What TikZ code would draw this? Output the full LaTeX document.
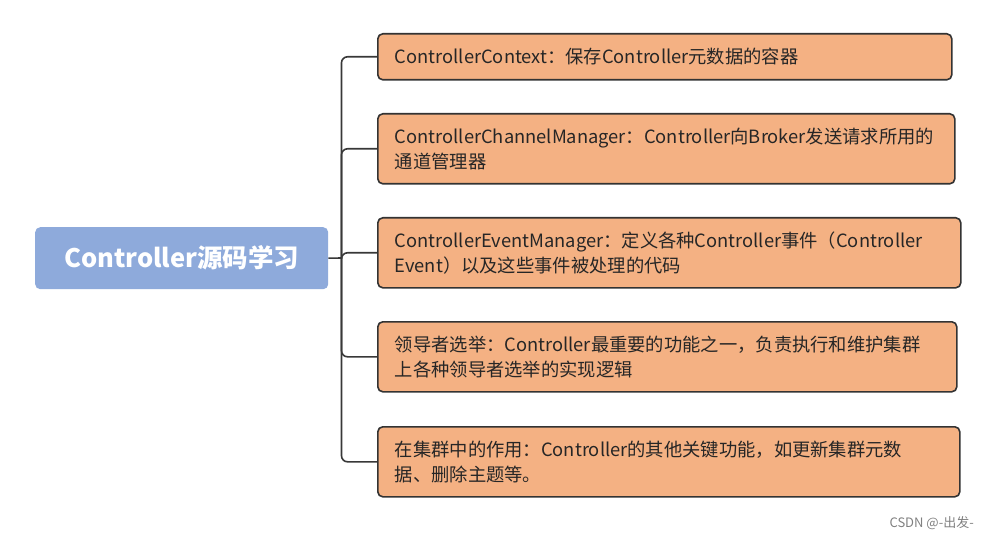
\documentclass[tikz,border=0pt]{standalone}
\usepackage{fontspec}
\setmainfont{Noto Sans CJK SC}
\begin{document}
\begin{tikzpicture}[x=1pt,y=-1pt,
  leaf/.style={draw=black!80,line width=1.6pt,fill=boxfill,rounded corners=5pt,
    anchor=north west,align=left,inner xsep=17pt,inner ysep=0pt,
    font=\fontsize{18.3}{25}\selectfont,text=black!85},
  rootbox/.style={fill=rootfill,rounded corners=5pt,inner sep=0pt,
    text=white,font=\fontsize{25.5}{30}\selectfont\bfseries},
  link/.style={draw=black!78,line width=1.6pt,rounded corners=6pt}]
\definecolor{boxfill}{HTML}{F4B183}
\definecolor{rootfill}{HTML}{8EAADB}
\useasboundingbox (0,0) rectangle (988,540);
\node[rootbox,minimum width=293pt,minimum height=62pt,anchor=north west] (root) at (35,227) {Controller源码学习};
\node[leaf,minimum width=574pt,minimum height=46pt,text width=540pt] (b1) at (377,33)
  {ControllerContext：保存Controller元数据的容器};
\node[leaf,minimum width=577pt,minimum height=70pt,text width=543pt] (b2) at (377,113)
  {ControllerChannelManager：Controller向Broker发送请求所用的\\通道管理器};
\node[leaf,minimum width=583pt,minimum height=70pt,text width=549pt] (b3) at (377,217)
  {ControllerEventManager：定义各种Controller事件（Controller\\Event）以及这些事件被处理的代码};
\node[leaf,minimum width=579pt,minimum height=70pt,text width=545pt] (b4) at (377,321)
  {领导者选举：Controller最重要的功能之一，负责执行和维护集群\\上各种领导者选举的实现逻辑};
\node[leaf,minimum width=582pt,minimum height=70pt,text width=548pt] (b5) at (377,426)
  {在集群中的作用：Controller的其他关键功能，如更新集群元数\\据、删除主题等。};
\coordinate (j) at (341.5,258);
\draw[link] (root.east) -- (j);
\foreach \b in {b1,b2,b3,b4,b5} \draw[link] (j) |- (\b.west);
\node[anchor=east,text=black!50,font=\fontsize{13}{15}\selectfont,inner sep=0pt] (wm) at (974,523) {CSDN @-出发-};
\end{tikzpicture}
\end{document}
